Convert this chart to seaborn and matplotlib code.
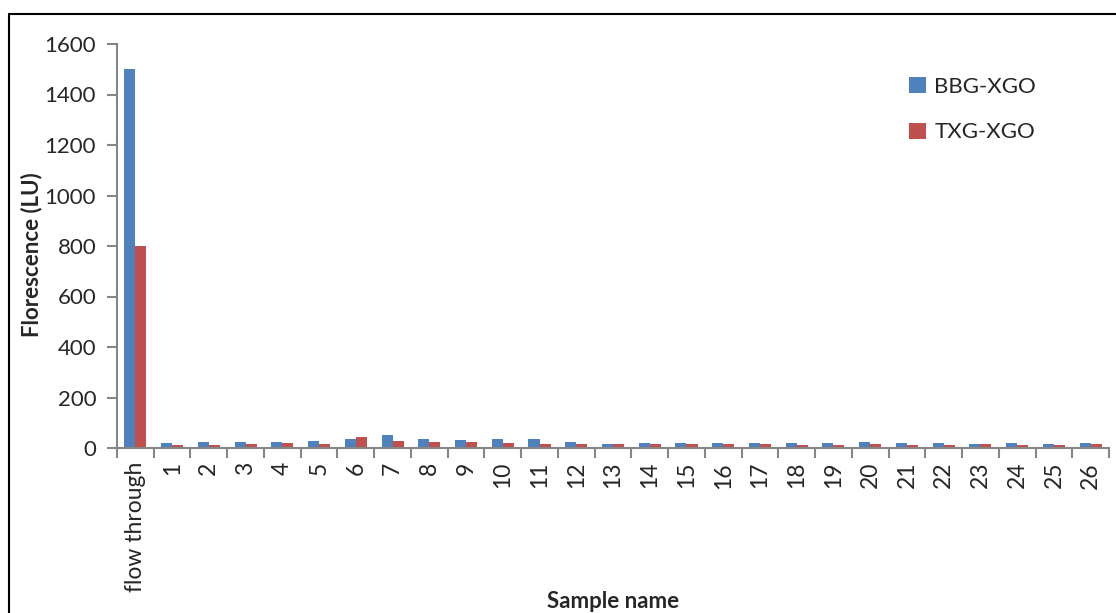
import matplotlib
matplotlib.use("Agg")
import matplotlib.pyplot as plt
from matplotlib.lines import Line2D
from matplotlib.patches import Patch
import numpy as np
import pandas as pd
import seaborn as sns

samples = ["flow through"] + [str(i) for i in range(1, 27)]
bbg_xgo = [1500, 21, 24, 24, 25, 29, 34, 53, 36, 32, 36, 34, 22, 17, 18,
           20, 20, 20, 20, 20, 24, 20, 20, 17, 20, 14, 20]
txg_xgo = [800, 13, 13, 16, 18, 16, 42, 28, 24, 22, 18, 14, 14, 16, 16,
           14, 14, 16, 12, 13, 14, 13, 13, 17, 13, 13, 16]
series_names = ["BBG-XGO", "TXG-XGO"]
colors = ["#4F81BD", "#C0504D"]

df = pd.DataFrame({
    "sample": samples * 2,
    "value": bbg_xgo + txg_xgo,
    "series": [series_names[0]] * len(samples) + [series_names[1]] * len(samples),
})

sns.set_theme(style="white")
plt.rcParams["font.family"] = ["Lato", "DejaVu Sans"]

W, H = 1116, 613
fig = plt.figure(figsize=(W / 100, H / 100), dpi=100)
ax = fig.add_axes([117 / W, 1 - 448 / H, (1109 - 117) / W, (448 - 44) / H])

sns.barplot(data=df, x="sample", y="value", hue="series", order=samples,
            hue_order=series_names, palette=colors, saturation=1, width=0.6,
            linewidth=0, ax=ax, legend=False)

axis_gray = "#868686"
ax.set_ylim(0, 1600)
ax.set_xlim(-0.5, len(samples) - 0.5)
ax.set_yticks(np.arange(0, 1601, 200))
ax.tick_params(axis="y", which="major", direction="out", length=7, width=1.5,
               color=axis_gray, labelsize=16, pad=8, left=True)
ax.set_xticks(np.arange(len(samples)))
ax.set_xticklabels(samples, rotation=90, fontsize=16.5)
ax.tick_params(axis="x", which="major", length=0, pad=10)
ax.set_xticks(np.arange(len(samples) + 1) - 0.5, minor=True)
ax.tick_params(axis="x", which="minor", direction="out", length=7, width=1.5,
               color=axis_gray, bottom=True)

for side in ["top", "right"]:
    ax.spines[side].set_visible(False)
for side in ["left", "bottom"]:
    ax.spines[side].set_color(axis_gray)
    ax.spines[side].set_linewidth(1.5)
ax.grid(False)

ax.set_xlabel("")
ax.set_ylabel("")
fig.text(613 / W, 1 - 602 / H, "Sample name", ha="center", va="center",
         fontsize=16, fontweight="bold")
fig.text(32 / W, 1 - 255 / H, "Florescence (LU)", ha="center", va="center",
         rotation=90, fontsize=16, fontweight="bold")

handles = [Patch(facecolor=c, edgecolor="none") for c in colors]
ax.legend(handles, series_names, loc="upper left",
          bbox_to_anchor=((900 - 117) / (1109 - 117), 1 - (68 - 44) / (448 - 44)),
          frameon=False, fontsize=16, handlelength=0.75, handleheight=0.75,
          handletextpad=0.4, labelspacing=1.15, borderaxespad=0)

# frame around the chart area (left and top edges)
fig.add_artist(Line2D([9 / W, 9 / W], [0, 1 - 14 / H], color="black",
                      linewidth=1.5, transform=fig.transFigure))
fig.add_artist(Line2D([9 / W, 1], [1 - 14 / H, 1 - 14 / H], color="black",
                      linewidth=1.5, transform=fig.transFigure))

fig.savefig("out.png", dpi=100)
